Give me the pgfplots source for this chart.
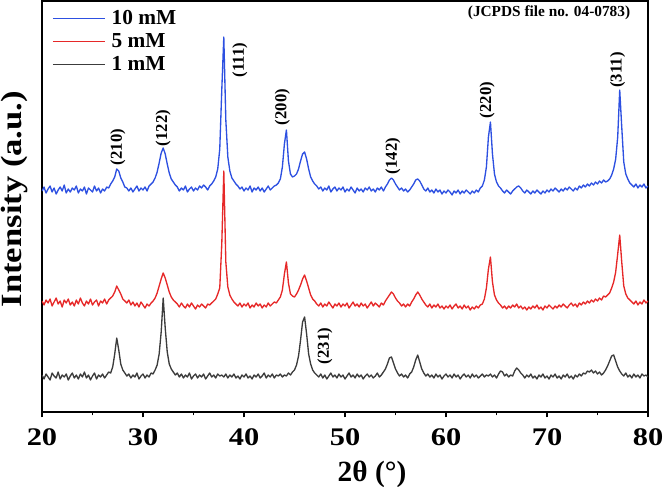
\documentclass[border=0pt]{standalone}
\usepackage{fontspec}
\setmainfont{Liberation Serif}
\usepackage{pgfplots}
\pgfplotsset{compat=1.18}
\usepackage{pgfplotstable}
\definecolor{xrdblue}{RGB}{45,80,225}
\definecolor{xrdred}{RGB}{230,40,40}
\definecolor{xrdgray}{RGB}{60,60,60}

\pgfplotstableread{
x b r k
20.0 221 111 37
20.2 225 107 33
20.4 219 112 38
20.6 223 109 35
20.8 226 113 32
21.0 220 106 39
21.2 224 110 36
21.4 218 114 34
21.6 222 108 40
21.8 225 111 33
22.0 221 105 37
22.2 227 112 35
22.4 219 109 38
22.6 223 113 32
22.8 220 107 36
23.0 224 110 39
23.2 222 106 34
23.4 226 112 37
23.6 219 108 33
23.8 223 114 38
24.0 221 109 35
24.2 225 106 40
24.4 218 111 34
24.6 224 108 37
24.8 222 113 32
25.0 220 107 36
25.2 226 110 39
25.4 221 112 33
25.6 224 106 37
25.8 219 111 35
26.0 223 109 38
26.2 221 113 34
26.4 225 108 37
26.6 224 112 40
26.8 228 114 39
27.0 231 116 45
27.2 235 120 58
27.4 243 126 74
27.6 241 122 62
27.8 234 118 48
28.0 230 113 42
28.2 225 111 39
28.4 224 109 36
28.6 221 112 38
28.8 224 107 34
29.0 220 110 37
29.2 223 106 35
29.4 226 109 39
29.6 221 105 33
29.8 224 110 36
30.0 222 107 38
30.2 225 104 34
30.4 221 108 37
30.6 226 106 35
30.8 228 109 39
31.0 230 111 38
31.2 234 114 42
31.4 240 119 47
31.6 249 126 58
31.8 259 133 80
32.0 264 139 114
32.2 258 134 84
32.4 248 127 60
32.6 239 120 48
32.8 233 115 43
33.0 230 112 40
33.2 227 110 37
33.4 225 108 39
33.6 221 105 35
33.8 224 109 38
34.0 222 106 34
34.2 226 104 37
34.4 220 108 35
34.6 223 105 39
34.8 225 109 33
35.0 221 106 36
35.2 224 103 38
35.4 222 107 34
35.6 226 105 37
35.8 224 108 35
36.0 227 106 38
36.2 225 104 33
36.4 222 108 36
36.6 226 107 39
36.8 228 109 35
37.0 231 111 37
37.2 235 113 34
37.4 243 118 38
37.6 263 124 36
37.8 322 168 37
38.0 375 241 35
38.2 292 150 38
38.4 255 125 34
38.6 241 117 37
38.8 234 113 35
39.0 231 110 38
39.2 228 108 34
39.4 226 106 36
39.6 223 109 33
39.8 225 105 37
40.0 221 108 35
40.2 224 106 38
40.4 222 109 34
40.6 226 104 36
40.8 220 107 33
41.0 224 105 37
41.2 222 109 35
41.4 225 106 38
41.6 221 108 34
41.8 224 104 36
42.0 220 107 39
42.2 223 105 34
42.4 226 109 37
42.6 222 106 35
42.8 224 108 38
43.0 226 110 34
43.2 227 109 37
43.4 229 112 36
43.6 233 115 38
43.8 245 122 35
44.0 268 138 37
44.2 282 150 36
44.4 251 129 39
44.6 238 118 37
44.8 235 116 40
45.0 236 115 42
45.2 238 118 47
45.4 243 122 56
45.6 251 127 72
45.8 258 133 90
46.0 260 137 95
46.2 253 131 78
46.4 243 124 58
46.6 235 117 48
46.8 231 113 42
47.0 228 111 39
47.2 226 108 37
47.4 223 106 35
47.6 225 109 38
47.8 221 105 34
48.0 224 108 37
48.2 222 106 33
48.4 226 110 36
48.6 220 107 39
48.8 223 104 35
49.0 225 108 37
49.2 221 106 34
49.4 224 109 38
49.6 222 105 35
49.8 225 108 37
50.0 220 106 33
50.2 223 109 36
50.4 221 104 39
50.6 225 107 35
50.8 222 110 37
51.0 219 106 34
51.2 224 108 38
51.4 221 105 35
51.6 223 109 37
51.8 220 106 33
52.0 224 108 36
52.2 222 104 38
52.4 225 107 35
52.6 221 110 37
52.8 223 106 34
53.0 220 109 36
53.2 224 107 39
53.4 222 105 35
53.6 225 109 37
53.8 221 107 40
54.0 225 111 43
54.2 228 114 48
54.4 232 117 54
54.6 234 120 55
54.8 232 118 49
55.0 228 114 43
55.2 225 111 39
55.4 222 109 36
55.6 224 106 38
55.8 221 108 35
56.0 223 105 37
56.2 220 108 34
56.4 222 106 38
56.6 225 110 40
56.8 228 113 45
57.0 232 117 52
57.2 233 120 57
57.4 231 117 50
57.6 227 113 43
57.8 223 110 39
58.0 221 107 36
58.2 224 105 38
58.4 220 108 35
58.6 222 104 37
58.8 219 107 34
59.0 223 105 38
59.2 220 108 35
59.4 222 104 37
59.6 218 106 33
59.8 221 103 36
60.0 219 106 38
60.2 222 104 35
60.4 220 107 37
60.6 217 103 34
60.8 221 106 38
61.0 219 108 35
61.2 222 104 37
61.4 218 106 33
61.6 221 103 36
61.8 219 107 38
62.0 222 104 35
62.2 220 106 37
62.4 218 102 34
62.6 221 105 38
62.8 219 103 35
63.0 222 106 37
63.2 220 104 34
63.4 224 107 36
63.6 226 108 38
63.8 232 113 35
64.0 245 124 37
64.2 275 143 36
64.4 290 155 38
64.6 258 130 35
64.8 238 117 37
65.0 230 112 34
65.2 226 109 38
65.4 224 107 41
65.6 221 104 40
65.8 219 106 36
66.0 222 103 38
66.2 220 106 35
66.4 218 104 37
66.6 221 107 36
66.8 223 105 41
67.0 225 108 44
67.2 226 104 42
67.4 224 106 39
67.6 221 103 37
67.8 219 105 34
68.0 222 102 37
68.2 220 105 35
68.4 218 103 38
68.6 221 106 34
68.8 219 104 36
69.0 222 107 33
69.2 220 103 37
69.4 218 105 35
69.6 221 102 38
69.8 219 106 34
70.0 222 104 36
70.2 220 107 33
70.4 223 105 37
70.6 221 103 35
70.8 224 106 38
71.0 222 104 34
71.2 220 107 36
71.4 223 105 33
71.6 221 108 37
71.8 224 106 35
72.0 222 104 38
72.2 225 107 34
72.4 223 109 36
72.6 221 106 33
72.8 224 108 37
73.0 222 105 35
73.2 226 109 38
73.4 224 107 36
73.6 227 110 39
73.8 225 108 38
74.0 228 111 41
74.2 226 109 40
74.4 229 112 42
74.6 227 110 39
74.8 230 113 41
75.0 228 111 38
75.2 231 114 40
75.4 229 112 37
75.6 232 116 39
75.8 230 115 42
76.0 231 117 46
76.2 233 119 51
76.4 237 124 56
76.6 243 130 57
76.8 253 140 51
77.0 275 158 45
77.2 322 177 41
77.4 285 150 38
77.6 250 126 36
77.8 238 118 39
78.0 233 114 35
78.2 229 112 37
78.4 227 110 34
78.6 225 108 38
78.8 228 111 35
79.0 224 107 37
79.2 227 110 34
79.4 225 108 38
79.6 228 112 36
79.8 224 109 37
80.0 226 111 35
}\xrd

\begin{document}
\begin{tikzpicture}
\begin{axis}[
  scale only axis,
  width=454.5pt, height=308.25pt,
  xmin=20, xmax=80, ymin=0, ymax=411,
  xtick={20,30,...,80},
  minor x tick num=1,
  ytick=\empty,
  tick align=outside,
  xtick pos=bottom,
  major tick length=4pt, minor tick length=2.5pt,
  axis line style={line width=1.5pt},
  every tick/.style={line width=1.2pt, black},
  /pgf/number format/assume math mode=true,
  xticklabel={\scalebox{1.2}[1]{\pgfmathprintnumber{\tick}}},
  xticklabel style={font=\fontsize{19}{19}\selectfont\bfseries, yshift=-5pt},
  xlabel={2θ (°)},
  xlabel style={at={(axis description cs:0.5446,-0.152)}, anchor=center, font=\fontsize{22}{22}\selectfont\bfseries},
  ylabel={\scalebox{1.18}[1]{Intensity (a.u.)}},
  ylabel style={at={(axis description cs:-0.0462,0.518)}, anchor=center, font=\fontsize{22}{22}\selectfont\bfseries},
  legend style={at={(axis description cs:0.01,0.99)}, anchor=north west, draw=none, fill=none,
    font=\fontsize{16}{16}\selectfont\bfseries, row sep=1pt,
    /tikz/every odd column/.append style={column sep=2.5pt}},
  legend cell align=left,
  legend image code/.code={\draw[#1] (0pt,0pt) -- (39pt,0pt);},
  every axis plot/.append style={line width=1pt, line join=round},
]
\addplot[color=xrdblue, no markers] table[x=x,y=b] {\xrd};
\addlegendentry{10 mM}
\addplot[color=xrdred, no markers] table[x=x,y=r] {\xrd};
\addlegendentry{5 mM}
\addplot[color=xrdgray, no markers] table[x=x,y=k] {\xrd};
\addlegendentry{1 mM}

\begin{scope}[every node/.style={rotate=90, font=\fontsize{12.5}{12.5}\selectfont\bfseries}]
\node at (axis cs:27.5,265) {(210)};
\node at (axis cs:32.0,284) {(122)};
\node at (axis cs:39.6,352) {(111)};
\node at (axis cs:43.8,305) {(200)};
\node at (axis cs:54.75,256) {(142)};
\node at (axis cs:64.06,312) {(220)};
\node at (axis cs:77.0,342) {(311)};
\node at (axis cs:48.0,66) {(231)};
\end{scope}
\node[anchor=east, font=\fontsize{11.5}{11.5}\selectfont\bfseries] at (axis cs:78.7,399) {(JCPDS file no. 04-0783)};
\end{axis}
\pgfresetboundingbox
\path[use as bounding box] ([xshift=-31.5pt,yshift=-55.5pt]current axis.south west) rectangle ([xshift=13.5pt,yshift=0.75pt]current axis.north east);
\end{tikzpicture}
\end{document}
